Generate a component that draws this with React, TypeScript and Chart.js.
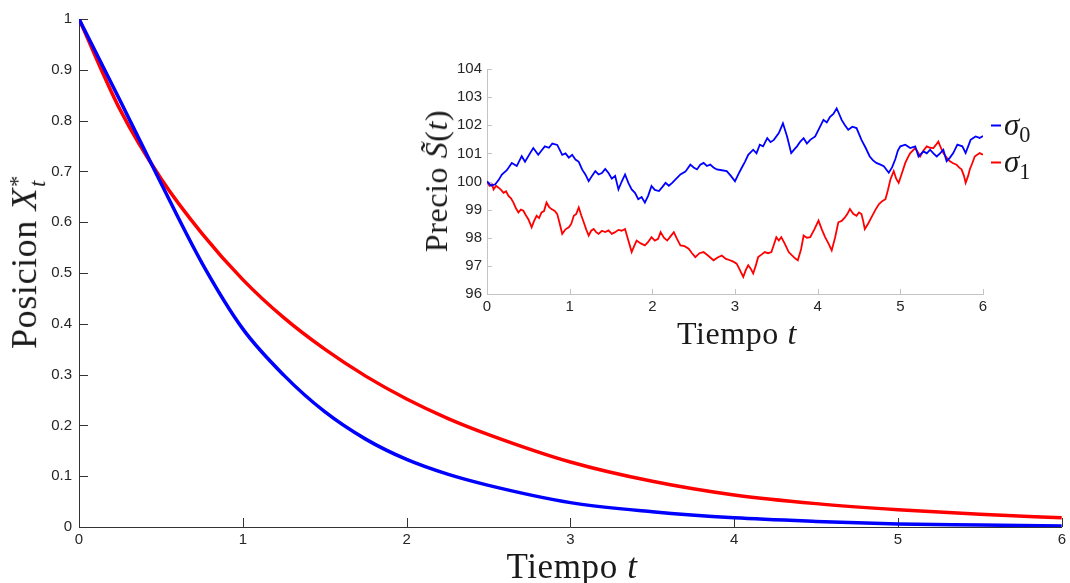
import React, { useEffect, useRef } from "react";
import { Chart, registerables } from "chart.js";

Chart.register(...registerables);

// ---------- Main chart data ----------
const mainTimes = [0, 0.25, 0.5, 0.75, 1.0, 1.25, 1.5, 1.75, 2.0, 2.25, 2.5, 3.0, 3.5, 4.0, 4.5, 5.0, 5.5, 6.0];
const mainBlue = [1.0, 0.84, 0.677, 0.52, 0.39, 0.299, 0.227, 0.173, 0.133, 0.104, 0.082, 0.048, 0.03, 0.018, 0.011, 0.006, 0.004, 0.002];
const mainRed = [1.0, 0.822, 0.686, 0.578, 0.487, 0.412, 0.35, 0.297, 0.252, 0.214, 0.182, 0.128, 0.09, 0.063, 0.046, 0.034, 0.025, 0.018];
const mainXTicks = [0, 1, 2, 3, 4, 5, 6];
const mainYTicks = [0, 0.1, 0.2, 0.3, 0.4, 0.5, 0.6, 0.7, 0.8, 0.9, 1];
const mainYTickLabels = ["0", "0.1", "0.2", "0.3", "0.4", "0.5", "0.6", "0.7", "0.8", "0.9", "1"];

// ---------- Inset chart data ----------
const sigma0Times = [0, 0.05, 0.1, 0.14, 0.18, 0.24, 0.3, 0.36, 0.42, 0.46, 0.52, 0.56, 0.62, 0.66, 0.7, 0.75, 0.79, 0.85, 0.91, 0.95, 0.99, 1.03, 1.07, 1.11, 1.15, 1.19, 1.23, 1.27, 1.31, 1.35, 1.39, 1.43, 1.47, 1.51, 1.55, 1.59, 1.63, 1.67, 1.71, 1.75, 1.79, 1.83, 1.87, 1.91, 1.95, 1.99, 2.03, 2.08, 2.12, 2.16, 2.2, 2.24, 2.29, 2.34, 2.4, 2.46, 2.5, 2.54, 2.58, 2.62, 2.66, 2.7, 2.74, 2.78, 2.84, 2.9, 2.95, 3.0, 3.04, 3.08, 3.12, 3.16, 3.22, 3.26, 3.3, 3.34, 3.39, 3.43, 3.47, 3.53, 3.58, 3.63, 3.68, 3.72, 3.75, 3.79, 3.83, 3.87, 3.91, 3.97, 4.02, 4.07, 4.11, 4.15, 4.19, 4.23, 4.26, 4.29, 4.33, 4.37, 4.42, 4.47, 4.53, 4.58, 4.63, 4.67, 4.71, 4.76, 4.8, 4.86, 4.9, 4.94, 4.97, 5.0, 5.06, 5.12, 5.18, 5.22, 5.28, 5.32, 5.36, 5.4, 5.44, 5.48, 5.52, 5.56, 5.6, 5.64, 5.69, 5.75, 5.79, 5.85, 5.91, 5.96, 6.0];
const sigma0Prices = [100.0, 99.85, 99.9, 100.05, 100.25, 100.4, 100.66, 100.55, 100.9, 100.7, 101.0, 101.19, 100.95, 101.1, 101.25, 101.2, 101.35, 101.3, 100.95, 101.0, 100.85, 100.95, 100.78, 100.7, 100.43, 100.25, 100.01, 100.2, 100.37, 100.25, 100.3, 100.45, 100.3, 100.1, 100.2, 99.72, 100.0, 100.25, 99.95, 99.72, 99.6, 99.37, 99.45, 99.25, 99.5, 99.84, 99.7, 99.66, 99.8, 99.95, 99.85, 99.95, 100.1, 100.25, 100.35, 100.6, 100.5, 100.43, 100.6, 100.66, 100.55, 100.6, 100.5, 100.43, 100.4, 100.37, 100.2, 100.01, 100.25, 100.48, 100.7, 100.95, 101.13, 101.0, 101.31, 101.25, 101.54, 101.4, 101.48, 101.72, 102.07, 101.6, 101.01, 101.15, 101.25, 101.42, 101.54, 101.35, 101.48, 101.6, 101.9, 102.19, 102.1, 102.3, 102.4, 102.6, 102.4, 102.19, 102.0, 101.84, 101.95, 101.9, 101.48, 101.2, 100.89, 100.75, 100.66, 100.6, 100.54, 100.31, 100.5, 100.8, 101.1, 101.25, 101.31, 101.19, 101.25, 100.89, 101.07, 101.0, 101.13, 101.0, 100.89, 101.0, 101.13, 100.72, 100.85, 101.01, 101.31, 101.25, 101.01, 101.48, 101.6, 101.55, 101.62];
const sigma1Times = [0, 0.03, 0.06, 0.08, 0.11, 0.14, 0.17, 0.2, 0.23, 0.26, 0.29, 0.32, 0.35, 0.38, 0.41, 0.44, 0.47, 0.5, 0.54, 0.57, 0.6, 0.63, 0.66, 0.69, 0.72, 0.75, 0.78, 0.82, 0.85, 0.88, 0.91, 0.95, 0.99, 1.02, 1.05, 1.08, 1.11, 1.14, 1.17, 1.2, 1.23, 1.26, 1.29, 1.32, 1.35, 1.39, 1.43, 1.47, 1.51, 1.55, 1.59, 1.63, 1.67, 1.71, 1.75, 1.78, 1.81, 1.86, 1.91, 1.95, 1.99, 2.03, 2.07, 2.1, 2.14, 2.18, 2.22, 2.26, 2.3, 2.34, 2.39, 2.44, 2.48, 2.52, 2.57, 2.62, 2.68, 2.74, 2.79, 2.84, 2.89, 2.94, 2.98, 3.02, 3.06, 3.1, 3.13, 3.16, 3.19, 3.22, 3.25, 3.28, 3.32, 3.36, 3.4, 3.44, 3.47, 3.5, 3.53, 3.56, 3.6, 3.65, 3.69, 3.73, 3.76, 3.8, 3.83, 3.87, 3.91, 3.96, 4.01, 4.05, 4.09, 4.13, 4.17, 4.21, 4.25, 4.29, 4.33, 4.36, 4.39, 4.43, 4.47, 4.5, 4.53, 4.55, 4.57, 4.61, 4.66, 4.7, 4.74, 4.78, 4.82, 4.85, 4.88, 4.92, 4.95, 4.98, 5.02, 5.06, 5.09, 5.12, 5.15, 5.18, 5.21, 5.24, 5.28, 5.32, 5.36, 5.4, 5.43, 5.46, 5.49, 5.52, 5.56, 5.6, 5.64, 5.68, 5.71, 5.74, 5.77, 5.79, 5.82, 5.84, 5.87, 5.9, 5.93, 5.96, 6.0];
const sigma1Prices = [100.0, 99.85, 99.9, 99.72, 99.85, 99.78, 99.7, 99.6, 99.65, 99.49, 99.4, 99.25, 99.05, 98.9, 99.0, 98.96, 98.8, 98.66, 98.37, 98.6, 98.78, 98.7, 98.9, 98.95, 99.25, 99.1, 99.02, 98.95, 98.84, 98.5, 98.14, 98.3, 98.37, 98.5, 98.78, 98.85, 99.08, 98.8, 98.55, 98.3, 98.08, 98.25, 98.31, 98.2, 98.14, 98.25, 98.2, 98.26, 98.14, 98.2, 98.28, 98.25, 98.31, 97.9, 97.49, 97.7, 97.9, 97.8, 97.73, 97.85, 98.02, 97.9, 97.96, 98.2, 98.0, 97.9, 98.05, 98.2, 97.95, 97.73, 97.7, 97.61, 97.45, 97.31, 97.45, 97.49, 97.35, 97.2, 97.3, 97.37, 97.25, 97.2, 97.15, 97.08, 96.85, 96.61, 96.85, 97.02, 96.9, 96.73, 97.0, 97.31, 97.4, 97.49, 97.45, 97.49, 97.75, 98.02, 97.9, 98.02, 97.8, 97.49, 97.37, 97.26, 97.2, 97.6, 98.08, 98.0, 98.02, 98.3, 98.61, 98.3, 98.02, 97.8, 97.55, 98.0, 98.55, 98.6, 98.72, 98.85, 99.02, 98.85, 98.78, 98.9, 98.84, 98.6, 98.31, 98.5, 98.78, 99.0, 99.19, 99.3, 99.37, 99.7, 100.07, 100.37, 100.1, 99.95, 100.3, 100.66, 100.85, 101.01, 101.1, 101.19, 101.05, 100.89, 101.1, 101.25, 101.2, 101.19, 101.3, 101.42, 101.2, 101.01, 100.85, 100.72, 100.65, 100.6, 100.5, 100.43, 100.2, 99.95, 100.2, 100.43, 100.65, 100.89, 100.95, 101.01, 100.95];
const insetXTicks = [0, 1, 2, 3, 4, 5, 6];
const insetYTicks = [96, 97, 98, 99, 100, 101, 102, 103, 104];

const BLUE = "#0000ff";
const RED = "#ff0000";
const TICK_FONT = "'Liberation Sans', Arial, Helvetica, sans-serif";
const SERIF = "'Liberation Serif', 'Times New Roman', serif";

const toPoints = (xs: number[], ys: number[]) => xs.map((x, i) => ({ x, y: ys[i] }));

function inwardTicks(len: number, color: string) {
  return {
    id: "inwardTicks",
    beforeDatasetsDraw(chart: any) {
      const { ctx, chartArea, scales } = chart;
      ctx.save();
      ctx.strokeStyle = color;
      ctx.lineWidth = 1;
      const xs = scales.x;
      const ys = scales.y;
      xs.ticks.forEach((_t: any, i: number) => {
        const px = Math.round(xs.getPixelForTick(i)) + 0.5;
        ctx.beginPath();
        ctx.moveTo(px, chartArea.bottom);
        ctx.lineTo(px, chartArea.bottom - len);
        ctx.stroke();
      });
      ys.ticks.forEach((_t: any, i: number) => {
        const py = Math.round(ys.getPixelForTick(i)) + 0.5;
        ctx.beginPath();
        ctx.moveTo(chartArea.left, py);
        ctx.lineTo(chartArea.left + len, py);
        ctx.stroke();
      });
      ctx.restore();
    },
  };
}

function MainChart() {
  const ref = useRef<HTMLCanvasElement>(null);
  useEffect(() => {
    if (!ref.current) return;
    const chart = new Chart(ref.current, {
      type: "line",
      data: {
        datasets: [
          {
            label: "azul",
            data: toPoints(mainTimes, mainBlue),
            borderColor: BLUE,
            borderWidth: 3.5,
            pointRadius: 0,
            cubicInterpolationMode: "monotone",
            fill: false,
          },
          {
            label: "rojo",
            data: toPoints(mainTimes, mainRed),
            borderColor: RED,
            borderWidth: 3.5,
            pointRadius: 0,
            cubicInterpolationMode: "monotone",
            fill: false,
          },
        ],
      },
      options: {
        animation: false,
        responsive: false,
        layout: { padding: { top: 19, right: 3, left: 0, bottom: 0 } },
        plugins: { legend: { display: false }, tooltip: { enabled: false } },
        scales: {
          x: {
            type: "linear",
            min: 0,
            max: 6,
            afterBuildTicks: (s: any) => {
              s.ticks = mainXTicks.map((v) => ({ value: v }));
            },
            afterFit: (s: any) => {
              s.height = 56;
            },
            grid: { display: false, drawTicks: false },
            border: { display: true, color: "#333333", width: 1 },
            ticks: {
              color: "#262626",
              font: { family: TICK_FONT, size: 15 },
              padding: 4,
              maxRotation: 0,
              callback: (v: any) => String(v),
            },
          },
          y: {
            type: "linear",
            min: 0,
            max: 1,
            afterBuildTicks: (s: any) => {
              s.ticks = mainYTicks.map((v) => ({ value: v }));
            },
            afterFit: (s: any) => {
              s.width = 79;
            },
            grid: { display: false, drawTicks: false },
            border: { display: true, color: "#333333", width: 1 },
            ticks: {
              color: "#262626",
              font: { family: TICK_FONT, size: 15 },
              padding: 7,
              callback: (v: any) => {
                const idx = mainYTicks.findIndex((t) => Math.abs(t - v) < 1e-6);
                return idx >= 0 ? mainYTickLabels[idx] : "";
              },
            },
          },
        },
      },
      plugins: [inwardTicks(9, "#333333")],
    } as any);
    return () => chart.destroy();
  }, []);
  return (
    <canvas
      ref={ref}
      width={1070}
      height={583}
      style={{ position: "absolute", left: 0, top: 0, width: 1070, height: 583 }}
    />
  );
}

function InsetChart() {
  const ref = useRef<HTMLCanvasElement>(null);
  useEffect(() => {
    if (!ref.current) return;
    const chart = new Chart(ref.current, {
      type: "line",
      data: {
        datasets: [
          {
            label: "σ0",
            data: toPoints(sigma0Times, sigma0Prices),
            borderColor: BLUE,
            borderWidth: 1.8,
            pointRadius: 0,
            tension: 0,
            fill: false,
          },
          {
            label: "σ1",
            data: toPoints(sigma1Times, sigma1Prices),
            borderColor: RED,
            borderWidth: 1.8,
            pointRadius: 0,
            tension: 0,
            fill: false,
          },
        ],
      },
      options: {
        animation: false,
        responsive: false,
        layout: { padding: { top: 12, right: 17, left: 0, bottom: 0 } },
        plugins: { legend: { display: false }, tooltip: { enabled: false } },
        scales: {
          x: {
            type: "linear",
            min: 0,
            max: 6,
            afterBuildTicks: (s: any) => {
              s.ticks = insetXTicks.map((v) => ({ value: v }));
            },
            afterFit: (s: any) => {
              s.height = 26;
            },
            grid: { display: false, drawTicks: false },
            border: { display: true, color: "#c4c4c4", width: 1 },
            ticks: {
              color: "#262626",
              font: { family: TICK_FONT, size: 15 },
              padding: 4,
              maxRotation: 0,
              callback: (v: any) => String(v),
            },
          },
          y: {
            type: "linear",
            min: 96,
            max: 104,
            afterBuildTicks: (s: any) => {
              s.ticks = insetYTicks.map((v) => ({ value: v }));
            },
            afterFit: (s: any) => {
              s.width = 77;
            },
            grid: { display: false, drawTicks: false },
            border: { display: true, color: "#c4c4c4", width: 1 },
            ticks: {
              color: "#262626",
              font: { family: TICK_FONT, size: 15 },
              padding: 5,
              callback: (v: any) => String(v),
            },
          },
        },
      },
      plugins: [inwardTicks(5, "#c4c4c4")],
    } as any);
    return () => chart.destroy();
  }, []);
  return (
    <canvas
      ref={ref}
      width={590}
      height={265}
      style={{ position: "absolute", left: 410, top: 55, width: 590, height: 265 }}
    />
  );
}

const textColor = "#1a1a1a";

function Label(props: { x: number; y: number; size: number; rotate?: boolean; spacing?: number; children: any }) {
  const { x, y, size, rotate, spacing, children } = props;
  return (
    <div
      style={{
        position: "absolute",
        left: x,
        top: y,
        transform: `translate(-50%, -50%)${rotate ? " rotate(-90deg)" : ""}`,
        fontFamily: SERIF,
        fontSize: size,
        letterSpacing: spacing ?? 0,
        color: textColor,
        whiteSpace: "nowrap",
        lineHeight: 1,
      }}
    >
      {children}
    </div>
  );
}

function LegendRow(props: { y: number; color: string; sub: string }) {
  return (
    <div
      style={{
        position: "absolute",
        left: 991,
        top: props.y,
        transform: "translateY(-50%)",
        display: "flex",
        alignItems: "center",
        fontFamily: SERIF,
        fontSize: 31,
        color: textColor,
        whiteSpace: "nowrap",
        lineHeight: 1,
      }}
    >
      <span style={{ display: "inline-block", width: 10, height: 2, background: props.color, marginRight: 3, marginTop: 2 }} />
      <span>
        <i>σ</i>
        <span style={{ fontSize: "0.72em", position: "relative", top: "0.3em" }}>{props.sub}</span>
      </span>
    </div>
  );
}

export default function App() {
  return (
    <div style={{ position: "absolute", left: 0, top: 0, width: 1070, height: 583, background: "#ffffff", overflow: "hidden" }}>
      <MainChart />
      <InsetChart />
      <Label x={27} y={262} size={36} spacing={0.6} rotate>
        Posicion <i>X</i>
        <span
          style={{
            display: "inline-block",
            verticalAlign: "middle",
            lineHeight: 0.9,
            fontSize: "0.62em",
            textAlign: "left",
            marginLeft: 1,
          }}
        >
          <span style={{ display: "block" }}>*</span>
          <span style={{ display: "block" }}>
            <i>t</i>
          </span>
        </span>
      </Label>
      <Label x={572} y={566} size={35} spacing={0.6}>
        Tiempo <i>t</i>
      </Label>
      <Label x={436} y={181} size={32} spacing={0.6} rotate>
        Precio <i>S̃</i>(<i>t</i>)
      </Label>
      <Label x={737} y={333} size={32} spacing={0.6}>
        Tiempo <i>t</i>
      </Label>
      <LegendRow y={124} color={BLUE} sub="0" />
      <LegendRow y={161} color={RED} sub="1" />
    </div>
  );
}
